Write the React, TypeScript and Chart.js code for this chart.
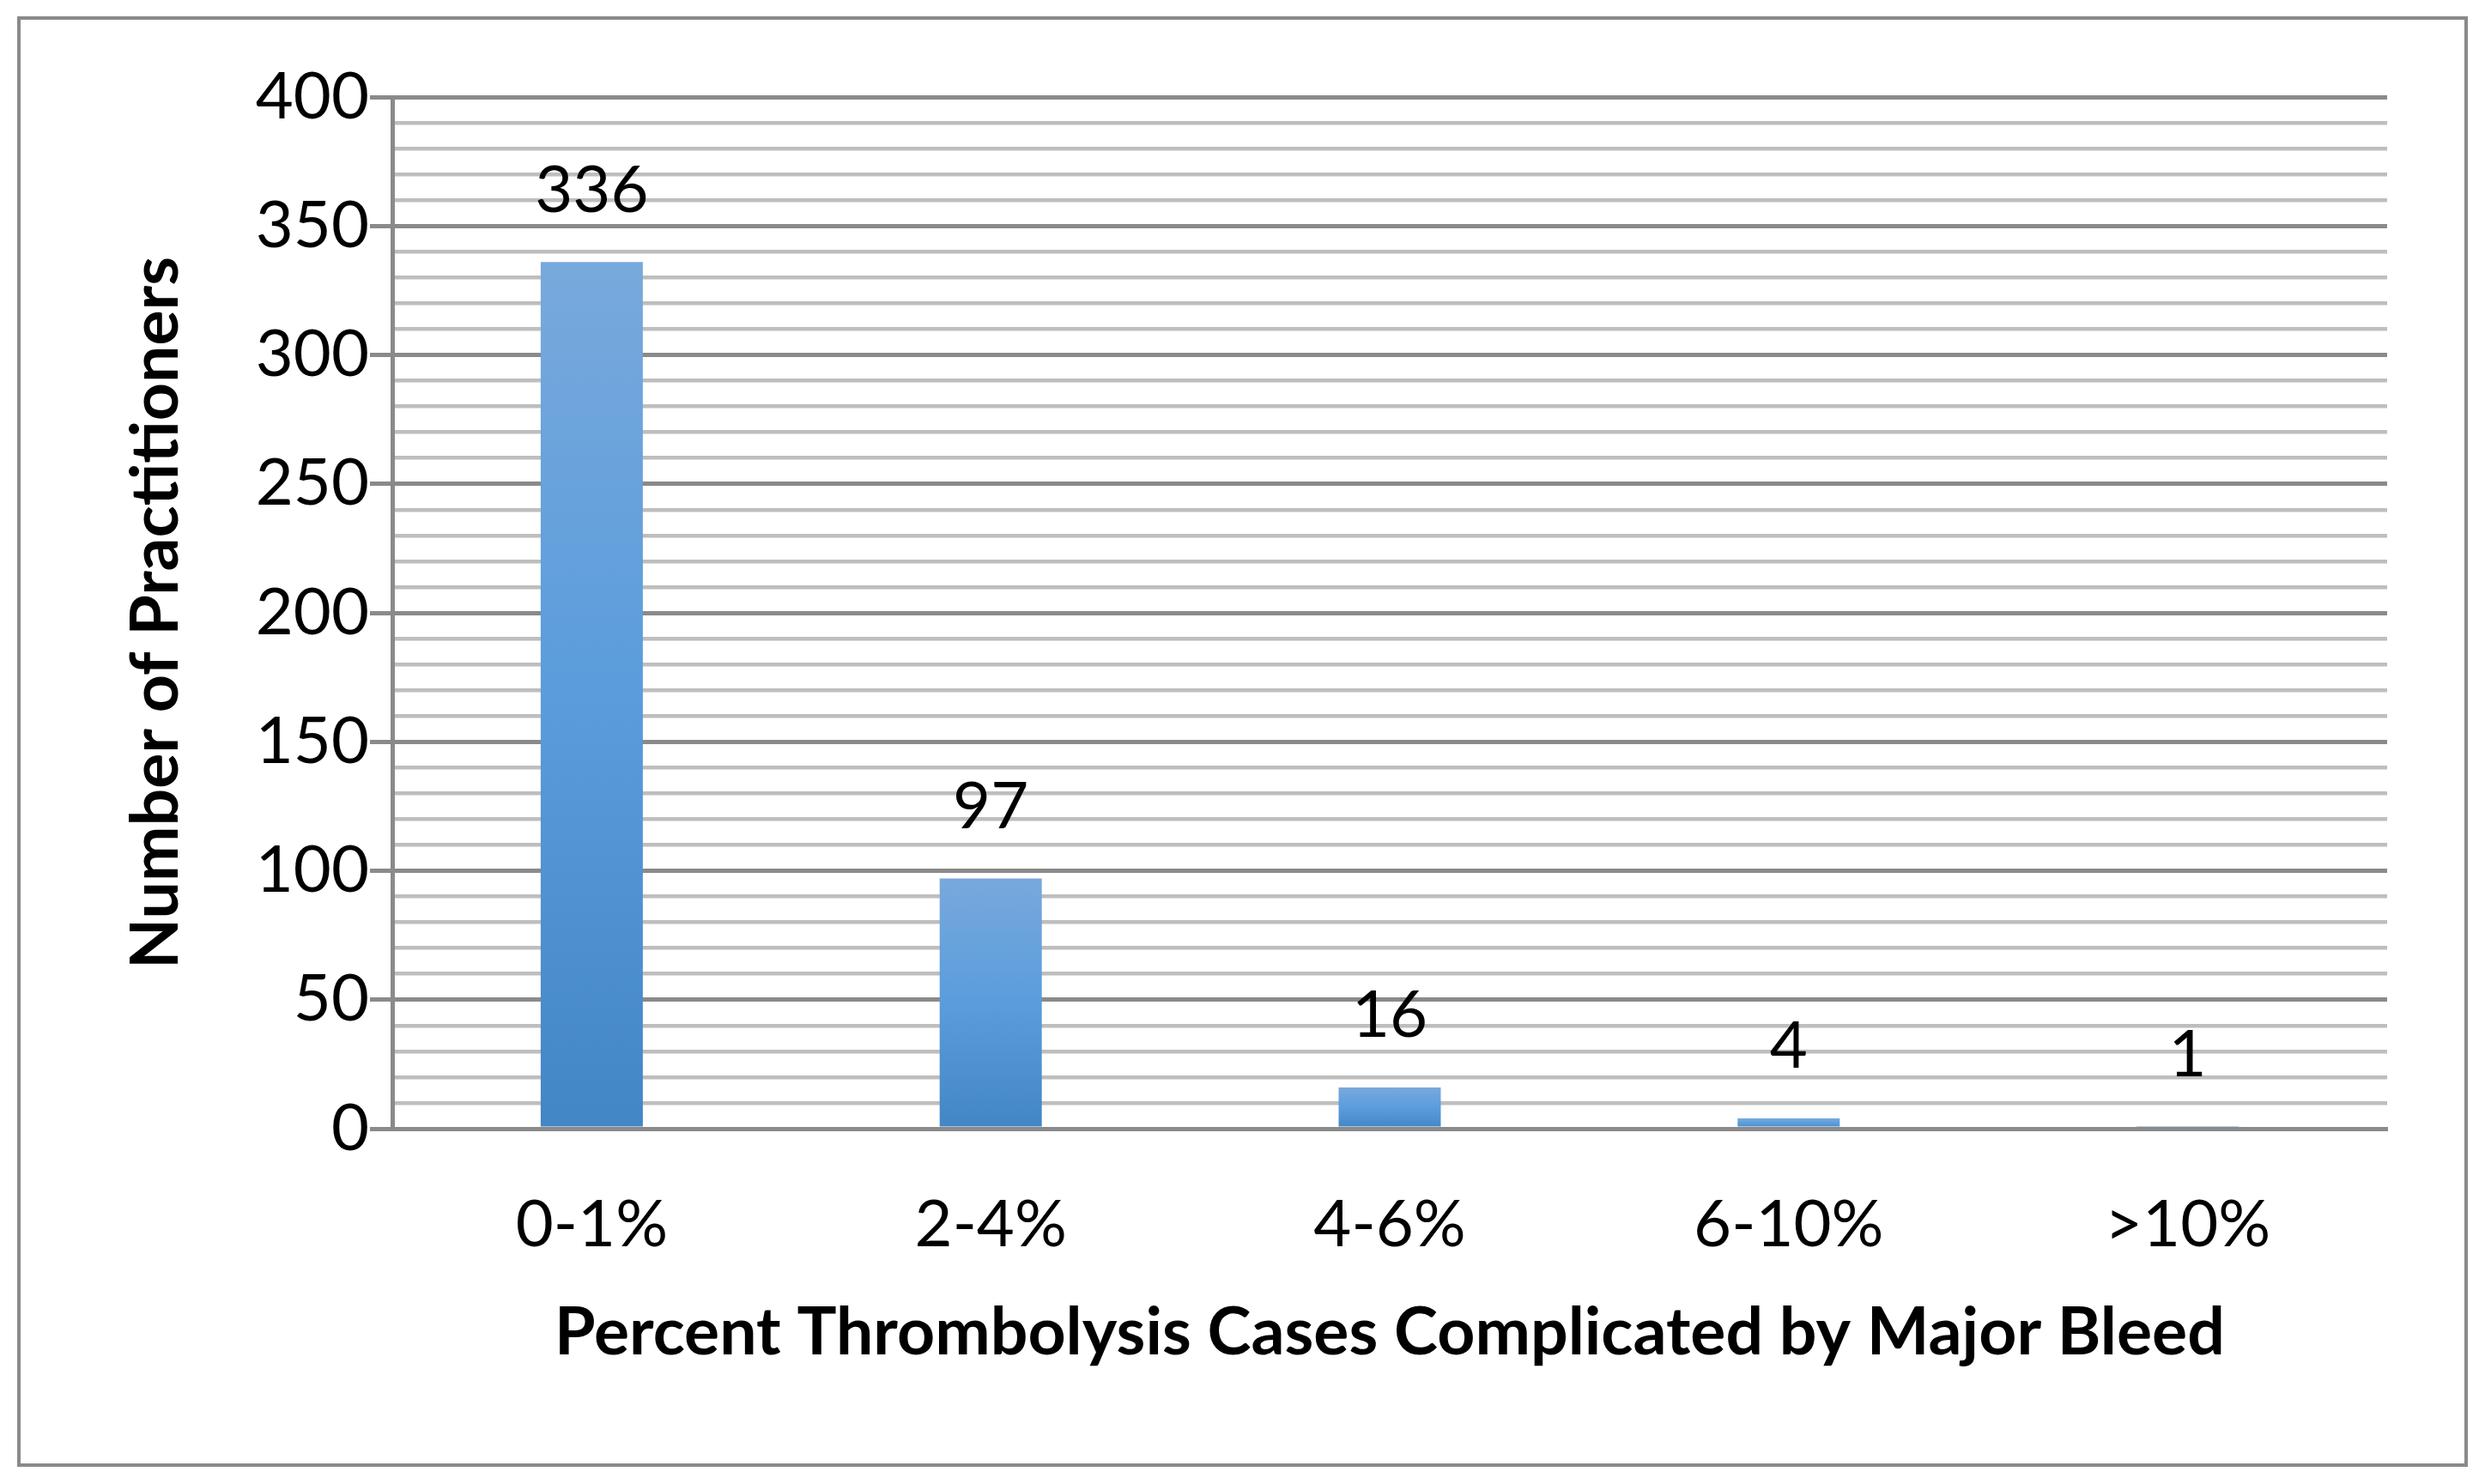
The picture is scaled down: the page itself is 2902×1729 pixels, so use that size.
import { useEffect, useRef } from 'react';
import { Chart, registerables, Plugin } from 'chart.js';

Chart.register(...registerables);

const categories = ['0-1%', '2-4%', '4-6%', '6-10%', '>10%'];
const practitioners = [336, 97, 16, 4, 1];
const yTickValues = [0, 50, 100, 150, 200, 250, 300, 350, 400];

const MAJOR = '#8a8a8a';
const MINOR = '#bebebe';
const FONT = 'Lato, Carlito, Calibri, sans-serif';

// frame around the whole picture
const framePlugin: Plugin<'bar'> = {
  id: 'frame',
  beforeDraw(chart) {
    const { ctx, width, height } = chart;
    ctx.save();
    ctx.fillStyle = '#ffffff';
    ctx.fillRect(0, 0, width, height);
    ctx.strokeStyle = '#8a8a8a';
    ctx.lineWidth = 4;
    ctx.strokeRect(22, 21, 2851, 1686);
    ctx.restore();
  }
};

// value labels above the bars
const valueLabels: Plugin<'bar'> = {
  id: 'valueLabels',
  afterDatasetsDraw(chart) {
    const { ctx } = chart;
    const meta = chart.getDatasetMeta(0);
    ctx.save();
    ctx.font = `76px ${FONT}`;
    ctx.fillStyle = '#000000';
    ctx.textAlign = 'center';
    ctx.textBaseline = 'middle';
    meta.data.forEach((bar, i) => {
      ctx.fillText(String(practitioners[i]), bar.x, bar.y - 83);
    });
    ctx.restore();
  }
};

export default function App() {
  const chartRef = useRef<HTMLCanvasElement>(null);
  const chartInstanceRef = useRef<Chart | null>(null);

  useEffect(() => {
    document.body.style.margin = '0';
    if (!chartRef.current) return;
    if (chartInstanceRef.current) {
      chartInstanceRef.current.destroy();
    }
    const ctx = chartRef.current.getContext('2d');
    if (!ctx) return;

    chartInstanceRef.current = new Chart(ctx, {
      type: 'bar',
      data: {
        labels: categories,
        datasets: [
          {
            data: practitioners,
            categoryPercentage: 1,
            barPercentage: 0.256,
            backgroundColor: (c) => {
              const chart = c.chart;
              const y = chart.scales.y;
              if (!y || c.parsed == null) return '#5b9cdc';
              const top = y.getPixelForValue(c.parsed.y as number);
              const bottom = y.getPixelForValue(0);
              if (!isFinite(top) || bottom - top < 1) return '#5b9cdc';
              const g = chart.ctx.createLinearGradient(0, top, 0, bottom);
              g.addColorStop(0, '#78a9dc');
              g.addColorStop(0.5, '#5a9cdc');
              g.addColorStop(1, '#4386c6');
              return g;
            }
          }
        ]
      },
      options: {
        responsive: false,
        animation: false,
        devicePixelRatio: 1,
        layout: {
          padding: { left: 136, top: 113, right: 121, bottom: 130 }
        },
        plugins: {
          legend: { display: false },
          tooltip: { enabled: false }
        },
        scales: {
          x: {
            grid: { display: false, drawTicks: false },
            border: { display: true, color: MAJOR, width: 5 },
            ticks: {
              color: '#000000',
              padding: 67,
              font: { family: FONT, size: 76 }
            },
            title: {
              display: true,
              text: 'Percent Thrombolysis Cases Complicated by Major Bleed',
              color: '#000000',
              font: { family: FONT, size: 77, weight: 'bold' },
              padding: { top: 0, bottom: 0 }
            },
            afterFit: (scale) => {
              scale.height = 284;
            }
          },
          y: {
            min: 0,
            max: 400,
            afterBuildTicks: (scale) => {
              const ticks = [];
              for (let v = 0; v <= 400; v += 10) ticks.push({ value: v });
              scale.ticks = ticks;
            },
            grid: {
              color: (c) => (yTickValues.includes(c.tick?.value) ? MAJOR : MINOR),
              lineWidth: (c) => (yTickValues.includes(c.tick?.value) ? 5 : 4.5),
              tickColor: (c) => (yTickValues.includes(c.tick?.value) ? MAJOR : 'rgba(0,0,0,0)'),
              tickLength: 26
            },
            border: { display: true, color: MAJOR, width: 5 },
            ticks: {
              autoSkip: false,
              color: '#000000',
              padding: 1,
              font: { family: FONT, size: 76 },
              callback: (v) => (yTickValues.includes(v as number) ? String(v) : '')
            },
            title: {
              display: true,
              text: 'Number of Practitioners',
              color: '#000000',
              font: { family: FONT, size: 77, weight: 'bold' },
              padding: { top: 0, bottom: 0 }
            },
            afterFit: (scale) => {
              scale.width = 321;
            }
          }
        }
      },
      plugins: [framePlugin, valueLabels]
    });

    return () => {
      if (chartInstanceRef.current) {
        chartInstanceRef.current.destroy();
        chartInstanceRef.current = null;
      }
    };
  }, []);

  return (
    <div style={{ position: 'relative', width: 2902, height: 1729, overflow: 'hidden' }}>
      <canvas ref={chartRef} width={2902} height={1729} />
    </div>
  );
}
